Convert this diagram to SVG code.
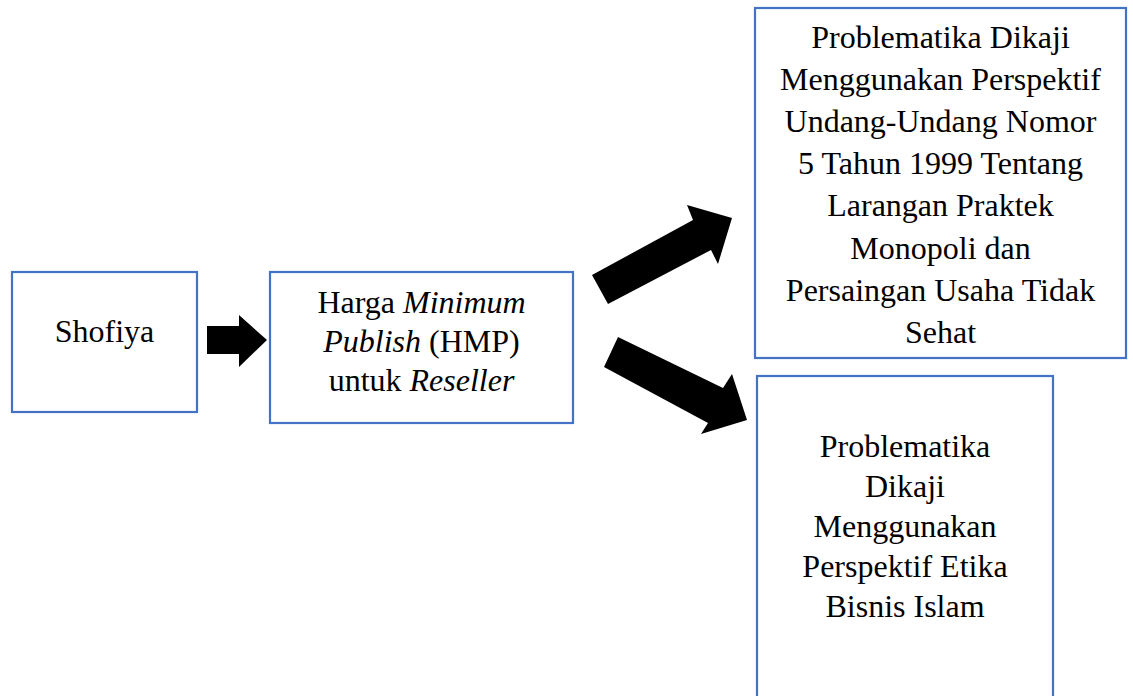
<svg xmlns="http://www.w3.org/2000/svg" width="1133" height="696" viewBox="0 0 1133 696">
<style>
.box{fill:#ffffff;stroke:#4472C4;stroke-width:2.2}
.t{font-family:"Liberation Serif","Times New Roman",serif;font-size:32px;fill:#000;text-anchor:middle}
.i{font-style:italic}
.arr{fill:#000}
</style>
<rect width="1133" height="696" fill="#ffffff"/>
<g id="node-shofiya">
<rect class="box" x="12" y="272" width="185" height="140"/>
<text class="t" x="104.5" y="342">Shofiya</text>
</g>
<g id="node-hmp">
<rect class="box" x="270" y="272" width="303" height="151"/>
<text class="t" x="421.5" y="313">Harga <tspan class="i">Minimum</tspan></text>
<text class="t" x="421.5" y="352"><tspan class="i">Publish</tspan> (HMP)</text>
<text class="t" x="421.5" y="391">untuk <tspan class="i">Reseller</tspan></text>
</g>
<g id="node-uu">
<rect class="box" x="755" y="8" width="371" height="350"/>
<text class="t" x="940.5" y="48">Problematika Dikaji</text>
<text class="t" x="940.5" y="90">Menggunakan Perspektif</text>
<text class="t" x="940.5" y="132">Undang-Undang Nomor</text>
<text class="t" x="940.5" y="174">5 Tahun 1999 Tentang</text>
<text class="t" x="940.5" y="216">Larangan Praktek</text>
<text class="t" x="940.5" y="259">Monopoli dan</text>
<text class="t" x="940.5" y="301">Persaingan Usaha Tidak</text>
<text class="t" x="940.5" y="343">Sehat</text>
</g>
<g id="node-etika">
<rect class="box" x="757" y="376" width="296" height="330"/>
<text class="t" x="905" y="457">Problematika</text>
<text class="t" x="905" y="497">Dikaji</text>
<text class="t" x="905" y="537">Menggunakan</text>
<text class="t" x="905" y="577">Perspektif Etika</text>
<text class="t" x="905" y="617">Bisnis Islam</text>
</g>
<g id="connectors">
<polygon class="arr" points="207,326 239,326 239,315 267,340 239,367 239,354 207,354"/>
<polygon class="arr" points="592,275 693,220 687,205 732,218 718,264 711,250 608,304"/>
<polygon class="arr" points="618,337 723,388 732,374 747,420 701,434 708,423 604,367"/>
</g>
</svg>
